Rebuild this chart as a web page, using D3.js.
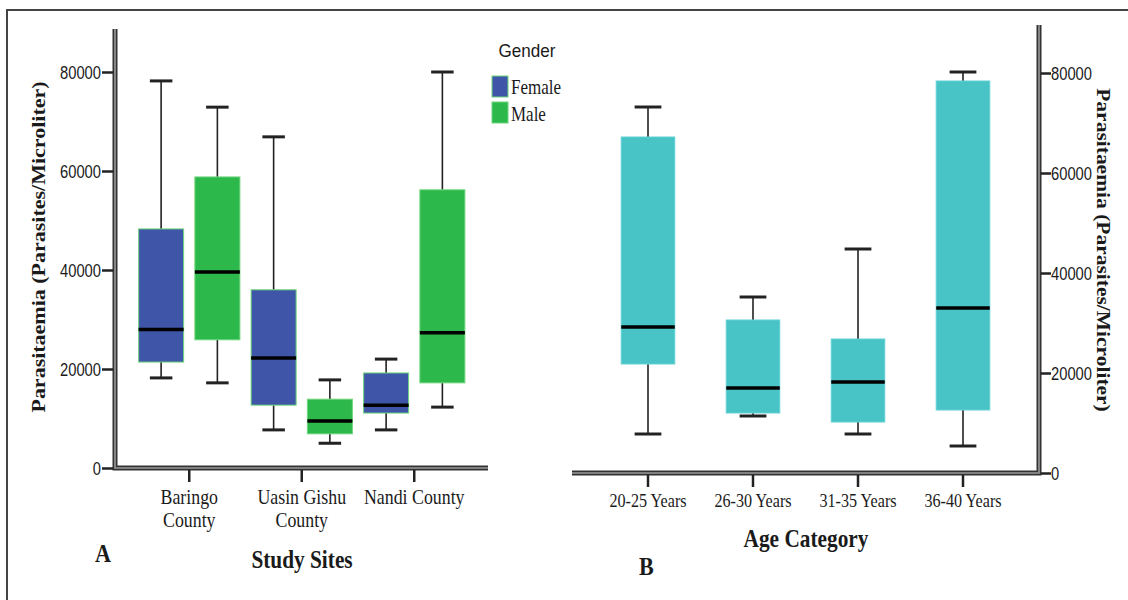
<!DOCTYPE html>
<html>
<head>
<meta charset="utf-8">
<script src="https://cdn.jsdelivr.net/npm/d3@7"></script>
<style>
	body { margin: 0; background: #fff; }
	svg { display: block; }
</style>
</head>
<body>
<svg id="chart" width="1128" height="600"></svg>
<script>
// data, [min, q1, median, q3, max]
const sites = ['Baringo County', 'Uasin Gishu County', 'Nandi County'];
const siteLines = [['Baringo', 'County'], ['Uasin Gishu', 'County'], ['Nandi County']];
const genders = ['Female', 'Male'];
const femaleStats = [
	[18200, 21400, 28000, 48300, 78200],
	[7700, 12700, 22200, 36000, 66900],
	[7700, 11100, 12700, 19200, 22000]
];
const maleStats = [
	[17200, 25900, 39600, 58800, 72900],
	[5000, 6900, 9500, 13900, 17800],
	[12300, 17200, 27300, 56200, 80000]
];
const ages = ['20-25 Years', '26-30 Years', '31-35 Years', '36-40 Years'];
const ageStats = [
	[7800, 21800, 29200, 67200, 73200],
	[11400, 12000, 17000, 30600, 35200],
	[7800, 10200, 18200, 26800, 44800],
	[5400, 12600, 33000, 78400, 80200]
];
const yTicks = [0, 20000, 40000, 60000, 80000];

// the source picture is squeezed sideways, so text gets narrowed too
const SX = 0.85;
const ink = '#1a1a1a';
const colors = { Female: '#3e55a8', Male: '#2db84b' };
const teal = '#48c3c6';

const svg = d3.select('#chart');

// frame
svg.append('path')
	.attr('d', 'M7,600 V10 H1128')
	.attr('fill', 'none')
	.attr('stroke', '#444')
	.attr('stroke-width', 2);

const axisLine = pts => {
	const line = d3.line();
	svg.append('path').attr('d', line(pts)).attr('fill', 'none')
		.attr('stroke', '#333').attr('stroke-width', 5);
	svg.append('path').attr('d', line(pts)).attr('fill', 'none')
		.attr('stroke', '#9a9a9a').attr('stroke-width', 1.6);
};

const squeezeText = (g, x, y, str, opts) => {
	const t = g.append('text')
		.attr('transform', `translate(${x},${y}) scale(${opts.sx || SX},1)` + (opts.rotate ? ` rotate(${opts.rotate})` : ''))
		.attr('text-anchor', opts.anchor || 'middle')
		.attr('font-family', opts.family || 'Liberation Serif')
		.attr('font-size', opts.size)
		.attr('font-weight', opts.bold ? 'bold' : 'normal')
		.attr('fill', ink)
		.text(str);
	return t;
};

const styleTicks = (g, dx, anchor) => {
	g.select('.domain').remove();
	g.selectAll('.tick line').attr('stroke', '#222').attr('stroke-width', 2.5);
	g.selectAll('.tick text')
		.attr('font-family', 'Liberation Sans')
		.attr('font-size', 18)
		.attr('fill', ink)
		.attr('text-anchor', anchor)
		.attr('transform', `scale(0.82,1)`)
		.attr('x', dx / 0.82)
		.attr('dy', '0.36em');
};

const boxPlot = (g, cx, w, v, fill, edge) => {
	const [mn, q1, md, q3, mx] = v;
	g.append('line').attr('x1', cx).attr('x2', cx).attr('y1', g.y(mx)).attr('y2', g.y(q3))
		.attr('stroke', '#222').attr('stroke-width', 1.6);
	g.append('line').attr('x1', cx).attr('x2', cx).attr('y1', g.y(q1)).attr('y2', g.y(mn))
		.attr('stroke', '#222').attr('stroke-width', 1.6);
	[mn, mx].forEach(d => {
		g.append('line').attr('x1', cx - w / 4).attr('x2', cx + w / 4)
			.attr('y1', g.y(d)).attr('y2', g.y(d))
			.attr('stroke', '#222').attr('stroke-width', 3);
	});
	g.append('rect')
		.attr('x', cx - w / 2).attr('width', w)
		.attr('y', g.y(q3)).attr('height', g.y(q1) - g.y(q3))
		.attr('fill', fill).attr('stroke', edge).attr('stroke-width', 1);
	g.append('line').attr('x1', cx - w / 2).attr('x2', cx + w / 2)
		.attr('y1', g.y(md)).attr('y2', g.y(md))
		.attr('stroke', '#000').attr('stroke-width', 3.5);
};

// ---------- panel A ----------
const yL = d3.scaleLinear().domain([0, 80000]).range([468, 72]);
const xL = d3.scaleBand().domain(sites).range([133, 470.5]);
const xG = d3.scaleBand().domain(genders).range([0, xL.bandwidth()]).paddingInner(0.2).paddingOuter(0.1);

const left = svg.append('g');
left.y = yL;

sites.forEach((s, i) => {
	genders.forEach(gd => {
		const v = (gd === 'Female' ? femaleStats : maleStats)[i];
		const cx = xL(s) + xG(gd) + xG.bandwidth() / 2;
		boxPlot(left, cx, xG.bandwidth(), v, colors[gd], '#6fd67c');
	});
});

axisLine([[115, 29], [115, 468], [488, 468]]);

svg.append('g')
	.attr('transform', 'translate(113,0)')
	.call(d3.axisLeft(yL).tickValues(yTicks).tickSize(11).tickFormat(d3.format('d')))
	.call(g => styleTicks(g, -12, 'end'));

svg.append('g')
	.attr('transform', 'translate(0,470)')
	.call(d3.axisBottom(xL).tickSize(12).tickFormat(''))
	.call(g => {
		g.select('.domain').remove();
		g.selectAll('.tick line').attr('stroke', '#222').attr('stroke-width', 2.5);
	});

sites.forEach((s, i) => {
	const cx = xL(s) + xL.bandwidth() / 2;
	siteLines[i].forEach((ln, k) => {
		squeezeText(svg, cx, 504 + k * 23, ln, { size: 21 });
	});
});

squeezeText(svg, 302, 568, 'Study Sites', { size: 26, bold: true, sx: 0.82 });
squeezeText(svg, 95, 562, 'A', { size: 26, bold: true, anchor: 'start' });
squeezeText(svg, 45, 247, 'Parasitaemia (Parasites/Microliter)', { size: 22, bold: true, rotate: -90 });

// legend
squeezeText(svg, 527, 57, 'Gender', { size: 18, family: 'Liberation Sans', sx: 0.95 });
genders.forEach((gd, i) => {
	svg.append('rect')
		.attr('x', 492).attr('y', 76 + i * 26)
		.attr('width', 16).attr('height', 21)
		.attr('fill', colors[gd]).attr('stroke', '#6fd67c').attr('stroke-width', 1);
	squeezeText(svg, 511, 94 + i * 27, gd, { size: 20, anchor: 'start' });
});

// ---------- panel B ----------
const yR = d3.scaleLinear().domain([0, 80000]).range([473, 73]);
const xR = d3.scaleBand().domain(ages).range([595.5, 1015.5]).paddingInner(0.49).paddingOuter(0.245);

const right = svg.append('g');
right.y = yR;

ages.forEach((a, i) => {
	boxPlot(right, xR(a) + xR.bandwidth() / 2, xR.bandwidth(), ageStats[i], teal, '#62d2d4');
});

axisLine([[572, 473], [1039, 473], [1039, 25]]);

svg.append('g')
	.attr('transform', 'translate(1041,0)')
	.call(d3.axisRight(yR).tickValues(yTicks).tickSize(10).tickFormat(d3.format('d')))
	.call(g => styleTicks(g, 10, 'start'));

svg.append('g')
	.attr('transform', 'translate(0,475)')
	.call(d3.axisBottom(xR).tickSize(12).tickFormat(''))
	.call(g => {
		g.select('.domain').remove();
		g.selectAll('.tick line').attr('stroke', '#222').attr('stroke-width', 2.5);
	});

ages.forEach(a => {
	squeezeText(svg, xR(a) + xR.bandwidth() / 2, 507, a, { size: 19 });
});

squeezeText(svg, 806, 547, 'Age Category', { size: 26, bold: true, sx: 0.82 });
squeezeText(svg, 639, 575, 'B', { size: 26, bold: true, anchor: 'start' });
squeezeText(svg, 1097, 250, 'Parasitaemia (Parasites/Microliter)', { size: 21.5, bold: true, rotate: 90 });
</script>
</body>
</html>
